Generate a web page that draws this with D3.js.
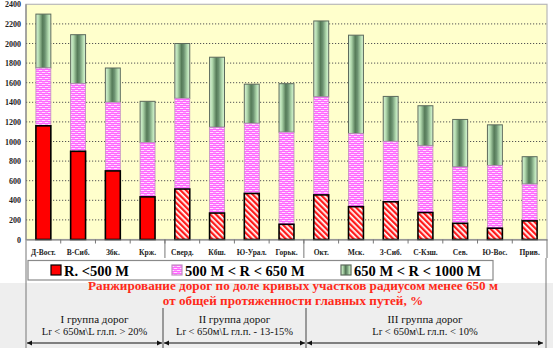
<!DOCTYPE html>
<html>
<head>
<meta charset="utf-8">
<script src="https://cdn.jsdelivr.net/npm/d3@7"></script>
<style>
  html, body { margin: 0; padding: 0; background: #fff; }
  svg { display: block; }
  text { font-family: "Liberation Serif", "Times New Roman", serif; }
</style>
</head>
<body>
<svg id="chart" width="553" height="348"></svg>
<script>
// Railway roads, lengths of curved track (km) by radius band
const categories = ["Д-Вост.", "В-Сиб.", "Збк.", "Крж.", "Сверд.", "Кбш.", "Ю-Урал.", "Горьк.",
                    "Окт.", "Мск.", "З-Сиб.", "С-Кзш.", "Сев.", "Ю-Вос.", "Прив."];
const below500 = [1160, 900, 700, 435, 515, 270, 470, 155, 455, 335, 385, 275, 165, 115, 190];
const from500to650 = [590, 690, 700, 555, 925, 875, 715, 940, 1000, 745, 615, 680, 575, 640, 375];
const from650to1000 = [550, 500, 350, 420, 560, 715, 400, 495, 775, 1005, 460, 410, 485, 415, 280];
const groupOf = [1, 1, 1, 1, 2, 2, 2, 2, 3, 3, 3, 3, 3, 3, 3];
const yTicks = [0, 200, 400, 600, 800, 1000, 1200, 1400, 1600, 1800, 2000, 2200, 2400];
const legendLabels = ["R. <500 M", "500 M < R < 650 M", "650 M < R < 1000 M"];
const titleLines = ["Ранжирование дорог по доле кривых участков радиусом менее 650 м",
                    "от общей протяженности главных путей, %"];
const groupTitles = ["I группа дорог", "II группа дорог", "III группа дорог"];
const groupRules = ["Lr < 650м\\L гл.п. > 20%", "Lr < 650м\\L гл.п. - 13-15%", "Lr < 650м\\L гл.п. < 10%"];

const svg = d3.select("#chart");
const W = 553, H = 348;
const plot = { left: 26, right: 547, top: 4.3, bottom: 239.5 };

const x = d3.scaleBand().domain(categories).range([plot.left, plot.right]).paddingInner(0.57).paddingOuter(0.285);
const y = d3.scaleLinear().domain([0, 2400]).range([plot.bottom, plot.top]);

// ---- pattern & gradient definitions
const defs = svg.append("defs");
const hatch = defs.append("pattern").attr("id", "hatch").attr("patternUnits", "userSpaceOnUse")
  .attr("width", 4).attr("height", 4).attr("patternTransform", "rotate(-45)");
hatch.append("rect").attr("width", 4).attr("height", 4).attr("fill", "#fff");
hatch.append("rect").attr("width", 2.3).attr("height", 4).attr("fill", "#ff1a1a");

const brick = defs.append("pattern").attr("id", "brick").attr("patternUnits", "userSpaceOnUse")
  .attr("width", 6).attr("height", 4);
brick.append("rect").attr("width", 6).attr("height", 4).attr("fill", "#ff66ff");
brick.append("rect").attr("x", 0).attr("y", 0).attr("width", 3).attr("height", 1).attr("fill", "#ffe0ff");
brick.append("rect").attr("x", 3).attr("y", 2).attr("width", 3).attr("height", 1).attr("fill", "#ffe0ff");
brick.append("rect").attr("x", 3).attr("y", 0).attr("width", 3).attr("height", 1).attr("fill", "#ff9cff");
brick.append("rect").attr("x", 0).attr("y", 2).attr("width", 3).attr("height", 1).attr("fill", "#ff9cff");

const grad = defs.append("linearGradient").attr("id", "cyl").attr("x1", "0%").attr("x2", "100%").attr("y1", "0%").attr("y2", "0%");
[["0%", "#d9f3d6"], ["18%", "#b4dcb0"], ["45%", "#557a58"], ["60%", "#6b9170"], ["85%", "#b8e0b4"], ["100%", "#dcf5d9"]]
  .forEach(([o, c]) => grad.append("stop").attr("offset", o).attr("stop-color", c));

// ---- backgrounds
svg.append("rect").attr("width", W).attr("height", H).attr("fill", "#fff");
svg.append("rect").attr("x", 0).attr("y", 283).attr("width", W).attr("height", H - 283).attr("fill", "#eeeeee");
svg.append("rect").attr("x", plot.left).attr("y", plot.top).attr("width", plot.right - plot.left)
  .attr("height", plot.bottom - plot.top).attr("fill", "#ffffcc").attr("stroke", "#b8b8b8").attr("stroke-width", 1.2);

// ---- grid
svg.append("g").selectAll("line").data(yTicks.filter(d => d > 0 && d < 2400)).join("line")
  .attr("x1", plot.left).attr("x2", plot.right).attr("y1", d => y(d)).attr("y2", d => y(d))
  .attr("stroke", "#555").attr("stroke-width", 1).attr("stroke-dasharray", "1.2,1.8");

// ---- y axis
const yAxis = d3.axisLeft(y).tickValues(yTicks).tickSize(0).tickPadding(5).tickFormat(d3.format("d"));
const yg = svg.append("g").attr("transform", `translate(${plot.left},0)`).call(yAxis);
yg.select(".domain").remove();
yg.selectAll("text").attr("font-size", 8).attr("font-weight", "bold").attr("fill", "#222");

// ---- stacked bars
const rows = categories.map((c, i) => ({ cat: c, g: groupOf[i], a: below500[i], b: from500to650[i], c: from650to1000[i] }));
const stack = d3.stack().keys(["a", "b", "c"]);
const layers = stack(rows);
const bw = x.bandwidth();

// green segments
svg.append("g").selectAll("rect").data(layers[2]).join("rect")
  .attr("x", d => x(d.data.cat)).attr("width", bw)
  .attr("y", d => y(d[1])).attr("height", d => y(d[0]) - y(d[1]))
  .attr("fill", "url(#cyl)").attr("stroke", "#5d6b5d").attr("stroke-width", 1);
// pink segments
svg.append("g").selectAll("rect").data(layers[1]).join("rect")
  .attr("x", d => x(d.data.cat)).attr("width", bw)
  .attr("y", d => y(d[1])).attr("height", d => y(d[0]) - y(d[1]))
  .attr("fill", "url(#brick)").attr("stroke", "#c090c0").attr("stroke-width", 0.8);
// red segments
svg.append("g").selectAll("rect").data(layers[0]).join("rect")
  .attr("x", d => x(d.data.cat)).attr("width", bw)
  .attr("y", d => y(d[1])).attr("height", d => y(d[0]) - y(d[1]))
  .attr("fill", d => d.data.g === 1 ? "#ff0000" : "url(#hatch)")
  .attr("stroke", "#000").attr("stroke-width", 1.6);

// ---- category axis
const step = x.step();
const xAxis = d3.axisBottom(x).tickSize(0).tickPadding(10);
const xg = svg.append("g").attr("transform", `translate(0,${plot.bottom})`).call(xAxis);
xg.select(".domain").attr("stroke", "#777");
xg.selectAll("text").attr("font-size", 7.5).attr("font-weight", "bold").attr("fill", "#222");
// boundary ticks
const bounds = d3.range(1, categories.length).map(i => plot.left + i * step);
svg.append("g").selectAll("line").data(bounds).join("line")
  .attr("x1", d => d).attr("x2", d => d).attr("y1", plot.bottom).attr("y2", plot.bottom + 4)
  .attr("stroke", "#777");
// group separators in label row
const sepX = [plot.left + 4 * step, plot.left + 8 * step, plot.right];
svg.append("g").selectAll("line").data(sepX).join("line")
  .attr("x1", d => d).attr("x2", d => d).attr("y1", plot.bottom).attr("y2", 258)
  .attr("stroke", "#777");
// left axis line
svg.append("line").attr("x1", plot.left).attr("x2", plot.left).attr("y1", plot.top).attr("y2", H)
  .attr("stroke", "#777");

// ---- legend
svg.append("rect").attr("x", 28).attr("y", 260.5).attr("width", 465).attr("height", 19.5)
  .attr("fill", "#fff").attr("stroke", "#8a8a8a").attr("stroke-width", 1.2);
const legendFills = ["#ff0000", "url(#brick)", "url(#cyl)"];
const legendStroke = ["#000", "#c090c0", "#5d6b5d"];
const legendX = [51, 172, 341];
legendLabels.forEach((t, i) => {
  svg.append("rect").attr("x", legendX[i]).attr("y", 265).attr("width", 10).attr("height", 10)
    .attr("fill", legendFills[i]).attr("stroke", legendStroke[i]).attr("stroke-width", 1.2);
  svg.append("text").attr("x", legendX[i] + 13).attr("y", 275.5).attr("font-size", 14.5)
    .attr("font-weight", "bold").attr("fill", "#000").text(t);
});

// ---- title
titleLines.forEach((t, i) => {
  svg.append("text").attr("x", 293).attr("y", 290 + i * 15).attr("text-anchor", "middle")
    .attr("font-size", 13.2).attr("font-weight", "bold").attr("fill", "#ff2a1a").text(t);
});

// ---- group annotations
const gEdges = [plot.left, 163, 306, 544];
[163, 306].forEach(xx => svg.append("line").attr("x1", xx).attr("x2", xx).attr("y1", 308).attr("y2", 348).attr("stroke", "#444"));
svg.append("line").attr("x1", 546).attr("x2", 546).attr("y1", 258).attr("y2", 348).attr("stroke", "#777");
groupTitles.forEach((t, i) => {
  const cx = (gEdges[i] + gEdges[i + 1]) / 2;
  svg.append("text").attr("x", cx).attr("y", 323).attr("text-anchor", "middle").attr("font-size", 11).attr("fill", "#111").text(t);
  svg.append("text").attr("x", cx).attr("y", 334.5).attr("text-anchor", "middle").attr("font-size", 10.5).attr("fill", "#111").text(groupRules[i]);
  const x0 = gEdges[i] + 1, x1 = gEdges[i + 1] - 1, yy = 343;
  svg.append("line").attr("x1", x0).attr("x2", x1).attr("y1", yy).attr("y2", yy).attr("stroke", "#111").attr("stroke-width", 1);
  svg.append("path").attr("d", `M${x0},${yy} l5,-2.5 l0,5 Z`).attr("fill", "#111");
  svg.append("path").attr("d", `M${x1},${yy} l-5,-2.5 l0,5 Z`).attr("fill", "#111");
});
</script>
</body>
</html>
